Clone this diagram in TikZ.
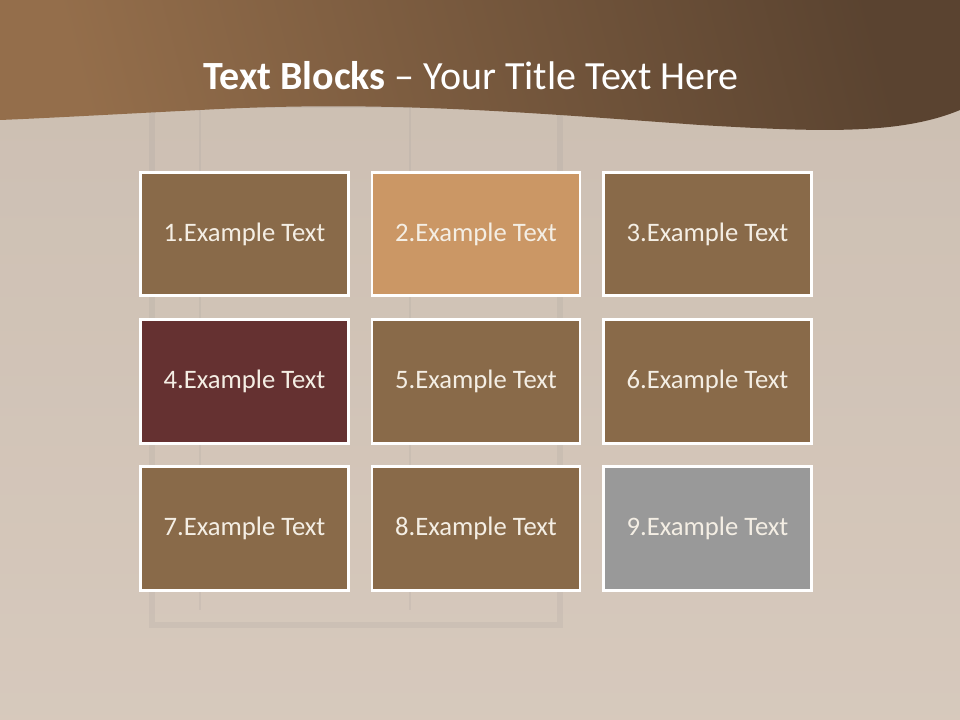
\documentclass[tikz,border=0pt]{standalone}
\usepackage{fontspec}
\setmainfont{Carlito}
\usepackage{xcolor}
\usetikzlibrary{positioning}

\definecolor{wallbg}{HTML}{D6C8BB}
\definecolor{bandleft}{HTML}{946E4B}
\definecolor{banddark}{HTML}{5A4330}
\definecolor{blockbrown}{HTML}{896A49}
\definecolor{blocktan}{HTML}{CB9765}
\definecolor{blockwine}{HTML}{653131}
\definecolor{blockgray}{HTML}{999999}
\definecolor{blocktext}{HTML}{F4EEE4}

\begin{document}
\begin{tikzpicture}[x=0.75pt, y=-0.75pt,
    block/.style={draw=white, line width=2.2pt, minimum width=156pt,
        minimum height=92.5pt, text=blocktext, font=\fontsize{20}{24}\selectfont},
    frame/.style={draw=black!45, line width=4pt, opacity=0.12}]
% Background wall
\fill[wallbg] (0,0) rectangle (960,720);
\useasboundingbox (0,0) rectangle (960,720);
\shade[top color=wallbg!92!black, bottom color=wallbg!96!white, opacity=0.6] (0,0) rectangle (960,720);
% Faint window behind the blocks
\draw[frame] (152,105) rectangle (560,625);
\draw[frame, line width=2pt] (200,105) -- (200,610) (410,105) -- (410,610);
% Title band with wavy edge
\shade[top color=banddark, bottom color=bandleft, shading angle=-75]
  (0,0) -- (960,0) -- (960,110) .. controls (900,135) and (820,132) .. (700,125)
  .. controls (520,112) and (380,100) .. (200,110) .. controls (120,114) and (50,118) .. (0,120) -- cycle;
% Title
\node[text=white, font=\fontsize{30}{36}\selectfont] (title) at (471,76)
  {\textbf{Text Blocks} -- Your Title Text Here};
% Text blocks
\foreach \n/\x/\y/\c in {1/244.5/234/blockbrown, 2/476/234/blocktan, 3/707.5/234/blockbrown,
    4/244.5/381.5/blockwine, 5/476/381.5/blockbrown, 6/707.5/381.5/blockbrown,
    7/244.5/528.5/blockbrown, 8/476/528.5/blockbrown, 9/707.5/528.5/blockgray} {
  \node[block, fill=\c] (b\n) at (\x,\y) {\n.Example Text};
}
\end{tikzpicture}
\end{document}
